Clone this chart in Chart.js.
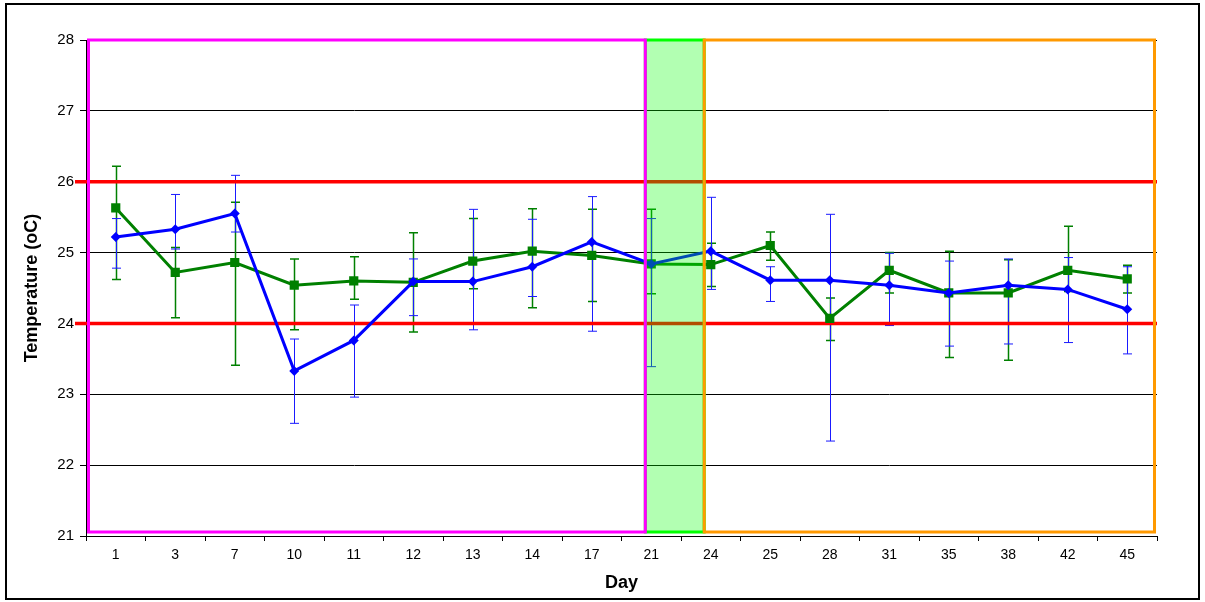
<!DOCTYPE html>
<html>
<head>
<meta charset="utf-8">
<script src="https://cdn.jsdelivr.net/npm/chart.js@4.4.1/dist/chart.umd.min.js"></script>
<style>
  html, body { margin: 0; padding: 0; background: #fff; }
  #wrap { width: 1205px; height: 602px; }
</style>
</head>
<body>
<div id="wrap"><canvas id="c" width="1205" height="602"></canvas></div>
<script>
// Sampling days
const days = ['1', '3', '7', '10', '11', '12', '13', '14', '17', '21', '24', '25', '28', '31', '35', '38', '42', '45'];

// Blue series: mean temperature and error bar bounds (oC)
const blueMean = [25.22, 25.33, 25.55, 23.33, 23.76, 24.59, 24.59, 24.80, 25.15, 24.84, 25.02, 24.61, 24.61, 24.54, 24.43, 24.54, 24.48, 24.20];
const blueHigh = [25.48, 25.82, 26.09, 23.78, 24.26, 24.91, 25.61, 25.47, 25.79, 25.48, 25.78, 24.80, 25.54, 24.99, 24.88, 24.91, 24.93, 24.80];
const blueLow  = [24.78, 25.05, 25.29, 22.59, 22.96, 24.11, 23.91, 24.38, 23.89, 23.39, 24.48, 24.31, 22.34, 23.97, 23.68, 23.71, 23.73, 23.57];

// Green series: mean temperature and error bar bounds (oC)
const greenMean = [25.63, 24.72, 24.86, 24.54, 24.60, 24.58, 24.88, 25.02, 24.96, 24.84, 24.83, 25.10, 24.07, 24.75, 24.43, 24.43, 24.75, 24.63];
const greenHigh = [26.22, 25.07, 25.71, 24.91, 24.94, 25.28, 25.48, 25.62, 25.61, 25.61, 25.13, 25.29, 24.36, 25.00, 25.02, 24.90, 25.37, 24.82];
const greenLow  = [24.62, 24.08, 23.41, 23.91, 24.34, 23.88, 24.49, 24.22, 24.31, 24.42, 24.52, 24.89, 23.76, 24.43, 23.52, 23.48, 24.45, 24.43];

// Y axis ticks and the acceptable temperature band
const yTicks = [21, 22, 23, 24, 25, 26, 27, 28];
const limitLines = [24, 26];

const FONT = '"Liberation Sans", Arial, Helvetica, sans-serif';
Chart.defaults.font.family = FONT;
Chart.defaults.color = '#000';

// White page with a thin black frame
const framePlugin = {
  id: 'frame',
  beforeDraw(chart) {
    const ctx = chart.ctx;
    ctx.save();
    ctx.fillStyle = '#fff';
    ctx.fillRect(0, 0, chart.width, chart.height);
    ctx.strokeStyle = '#000';
    ctx.lineWidth = 2;
    ctx.strokeRect(6, 4, 1193, 595);
    ctx.restore();
  }
};

// Error bars and the red limit lines, drawn beneath the series lines
const errorAndLimitPlugin = {
  id: 'errorAndLimit',
  beforeDatasetsDraw(chart) {
    const ctx = chart.ctx;
    const y = chart.scales.y;
    const x = chart.scales.x;
    const bars = [
      { ds: 1, hi: greenHigh, lo: greenLow, color: '#008000', width: 1.5 },
      { ds: 0, hi: blueHigh, lo: blueLow, color: '#1a1aff', width: 1 }
    ];
    ctx.save();
    bars.forEach(b => {
      const meta = chart.getDatasetMeta(b.ds);
      ctx.strokeStyle = b.color;
      ctx.lineWidth = b.width;
      meta.data.forEach((pt, i) => {
        const px = Math.round(pt.x) + 0.5;
        const yh = y.getPixelForValue(b.hi[i]);
        const yl = y.getPixelForValue(b.lo[i]);
        ctx.beginPath();
        ctx.moveTo(px, yh); ctx.lineTo(px, yl);
        ctx.moveTo(px - 4.5, yh); ctx.lineTo(px + 4.5, yh);
        ctx.moveTo(px - 4.5, yl); ctx.lineTo(px + 4.5, yl);
        ctx.stroke();
      });
    });
    ctx.strokeStyle = '#ff0000';
    ctx.lineWidth = 3.5;
    limitLines.forEach(v => {
      const py = y.getPixelForValue(v);
      ctx.beginPath();
      ctx.moveTo(75, py);
      ctx.lineTo(x.right, py);
      ctx.stroke();
    });
    ctx.restore();
  }
};

// Phase boxes: first phase, transition (shaded) and last phase
const phasePlugin = {
  id: 'phases',
  afterDatasetsDraw(chart) {
    const ctx = chart.ctx;
    const x = chart.scales.x;
    const y = chart.scales.y;
    const top = y.getPixelForValue(28);
    const bottom = y.getPixelForValue(21) - 4;
    const left = x.left + 2.5;
    const right = x.right - 2.5;
    const splitA = x.getPixelForValue(8.9);
    const splitB = x.getPixelForValue(9.89);
    ctx.save();
    ctx.fillStyle = 'rgba(0,255,0,0.3)';
    ctx.fillRect(splitA, top, splitB - splitA, bottom - top);
    ctx.lineWidth = 3;
    ctx.strokeStyle = '#00ff00';
    ctx.strokeRect(splitA, top, splitB - splitA, bottom - top);
    ctx.strokeStyle = '#ff00ff';
    ctx.strokeRect(left, top, splitA - left, bottom - top);
    ctx.strokeStyle = '#ff9900';
    ctx.strokeRect(splitB, top, right - splitB, bottom - top);
    ctx.restore();
  }
};

new Chart(document.getElementById('c'), {
  type: 'line',
  data: {
    labels: days,
    datasets: [
      {
        label: 'Blue',
        data: blueMean,
        borderColor: '#0000ff',
        backgroundColor: '#0000ff',
        borderWidth: 3,
        pointStyle: 'rectRot',
        pointRadius: 5,
        pointBorderWidth: 0,
        tension: 0
      },
      {
        label: 'Green',
        data: greenMean,
        borderColor: '#008000',
        backgroundColor: '#008000',
        borderWidth: 3,
        pointStyle: 'rect',
        pointRadius: 6.5,
        pointBorderWidth: 0,
        tension: 0
      }
    ]
  },
  options: {
    responsive: false,
    animation: false,
    devicePixelRatio: 1,
    layout: { padding: { top: 40, right: 48, bottom: 0, left: 0 } },
    plugins: { legend: { display: false }, tooltip: { enabled: false } },
    scales: {
      x: {
        offset: true,
        grid: { offset: true, drawOnChartArea: false, drawTicks: true, tickLength: 5, color: '#000' },
        border: { color: '#000', width: 1 },
        ticks: { font: { size: 14 }, padding: 6, color: '#000', maxRotation: 0, autoSkip: false },
        title: { display: true, text: 'Day', font: { size: 18, weight: 'bold' }, padding: { top: 0, bottom: 8 }, color: '#000' },
        afterFit(scale) { scale.height = 66; }
      },
      y: {
        min: 21,
        max: 28,
        afterBuildTicks(scale) { scale.ticks = yTicks.map(v => ({ value: v })); },
        grid: { color: '#000', lineWidth: 1, drawTicks: true, tickLength: 6 },
        border: { color: '#000', width: 1 },
        ticks: { font: { size: 15 }, padding: 6, color: '#000' },
        title: { display: true, text: 'Temperature (oC)', font: { size: 18, weight: 'bold' }, padding: { top: 21, bottom: 0 }, color: '#000' },
        afterFit(scale) { scale.width = 86; }
      }
    }
  },
  plugins: [framePlugin, errorAndLimitPlugin, phasePlugin]
});
</script>
</body>
</html>
